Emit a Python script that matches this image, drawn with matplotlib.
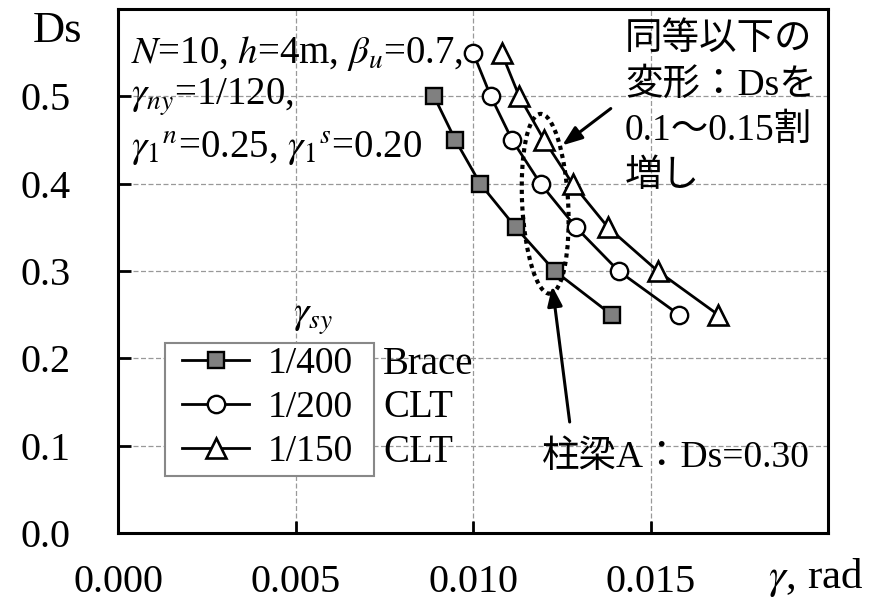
import matplotlib.pyplot as plt
from matplotlib.patches import Ellipse, Rectangle
from matplotlib.transforms import IdentityTransform

plt.rcParams['font.family'] = ['Liberation Serif', 'Noto Sans CJK JP']
plt.rcParams['mathtext.fontset'] = 'stix'

# data (gamma [rad], Ds)
ds_brace = [0.50, 0.45, 0.40, 0.35, 0.30, 0.25]
g_brace = [0.0089, 0.0095, 0.0102, 0.0112, 0.0123, 0.0139]
ds_clt = [0.55, 0.50, 0.45, 0.40, 0.35, 0.30, 0.25]
g_clt200 = [0.0100, 0.0105, 0.0111, 0.0119, 0.0129, 0.0141, 0.0158]
g_clt150 = [0.0108, 0.0113, 0.0120, 0.0128, 0.0138, 0.0152, 0.0169]

labels = ['1/400', '1/200', '1/150']
kinds = ['Brace', 'CLT', 'CLT']
xticks = [0.0, 0.005, 0.010, 0.015]
yticks = [0.0, 0.1, 0.2, 0.3, 0.4, 0.5]

fig = plt.figure(figsize=(8.81, 6.03), dpi=100)
ax = fig.add_axes([0.134, 0.116, 0.806, 0.869])

ax.plot(g_brace, ds_brace, '-s', color='black', lw=2.0, ms=12,
        mfc='#808080', mec='black', mew=1.7, label=labels[0])
ax.plot(g_clt200, ds_clt, '-o', color='black', lw=2.0, ms=12.5,
        mfc='white', mec='black', mew=1.7, label=labels[1])
ax.plot(g_clt150, ds_clt, '-^', color='black', lw=2.0, ms=15,
        mfc='white', mec='black', mew=1.9, label=labels[2])

ax.set_xlim(0, 0.02)
ax.set_ylim(0, 0.6)
ax.set_xticks(xticks)
ax.set_xticklabels(['%.3f' % v for v in xticks])
ax.set_yticks(yticks)
ax.set_yticklabels(['%.1f' % v for v in yticks])
ax.tick_params(direction='in', length=9, width=2, labelsize=29)
ax.tick_params(axis='y', pad=34)
ax.tick_params(axis='x', pad=22)
for s in ax.spines.values():
    s.set_linewidth(2.2)

# grid incl. the 0.6 / 0.020 lines
for x in xticks + [0.02]:
    ax.axvline(x, color='#999999', lw=0.9, ls=(0, (4, 2)), zorder=0)
for y in yticks + [0.6]:
    ax.axhline(y, color='#999999', lw=0.9, ls=(0, (4, 2)), zorder=0)

# axis names sitting in the tick-label rows
ax.text(-0.051, 0.958, 'Ds', transform=ax.transAxes, ha='right', va='center', fontsize=32)
ax.text(0.982, -0.084, r'$\gamma$, rad', transform=ax.transAxes, ha='center', va='center', fontsize=31)

# condition text
ax.text(0.018, 0.916, r'$N$=10, $h$=4m, $\beta_u$=0.7,', transform=ax.transAxes,
        ha='left', va='center', fontsize=28)
ax.text(0.018, 0.832, r'$\gamma_{ny}$=1/120,', transform=ax.transAxes,
        ha='left', va='center', fontsize=28)
ax.text(0.018, 0.735, r'$\gamma_1$$^n$=0.25, $\gamma_1$$^s$=0.20', transform=ax.transAxes,
        ha='left', va='center', fontsize=28)

# legend (frame drawn separately: it is wider than tall padding allows)
leg = ax.legend(loc='upper left', bbox_to_anchor=(0.090, 0.356), borderaxespad=0,
                borderpad=0, fontsize=27, handlelength=1.8, handletextpad=0.5,
                labelspacing=0.25, frameon=False)
ax.add_patch(Rectangle((0.066, 0.109), 0.295, 0.254, transform=ax.transAxes,
                       facecolor='white', edgecolor='#888888', lw=1.5, zorder=4))
leg.set_zorder(5)
ax.text(0.275, 0.41, r'$\gamma_{sy}$', transform=ax.transAxes, ha='center', va='center', fontsize=28)
for yy, k in zip([0.321, 0.239, 0.153], kinds):
    ax.text(0.373, yy, k, transform=ax.transAxes, ha='left', va='center', fontsize=28)

# dotted loop (drawn in pixels so it can lean a little) and notes
cx, cy = ax.transData.transform((0.01203, 0.377))
ax.add_patch(Ellipse((cx, cy), 46, 180, angle=3, transform=IdentityTransform(),
                     fill=False, color='black', lw=3, ls=(0, (1, 1))))
arrow = dict(arrowstyle='-|>,head_length=1.2,head_width=0.45', color='black', lw=2.2)
ax.annotate('', xy=(0.01245, 0.442), xytext=(0.01394, 0.488), arrowprops=arrow)
ax.annotate('', xy=(0.01222, 0.286), xytext=(0.01273, 0.124), arrowprops=arrow)
ax.text(0.01428, 0.585, '同等以下の\n変形：Dsを\n0.1～0.15割\n増し', ha='left', va='top',
        fontsize=27, linespacing=1.42)
ax.text(0.01194, 0.086, '柱梁A：Ds=0.30', ha='left', va='center', fontsize=27)

fig.savefig('out.png', dpi=100)
